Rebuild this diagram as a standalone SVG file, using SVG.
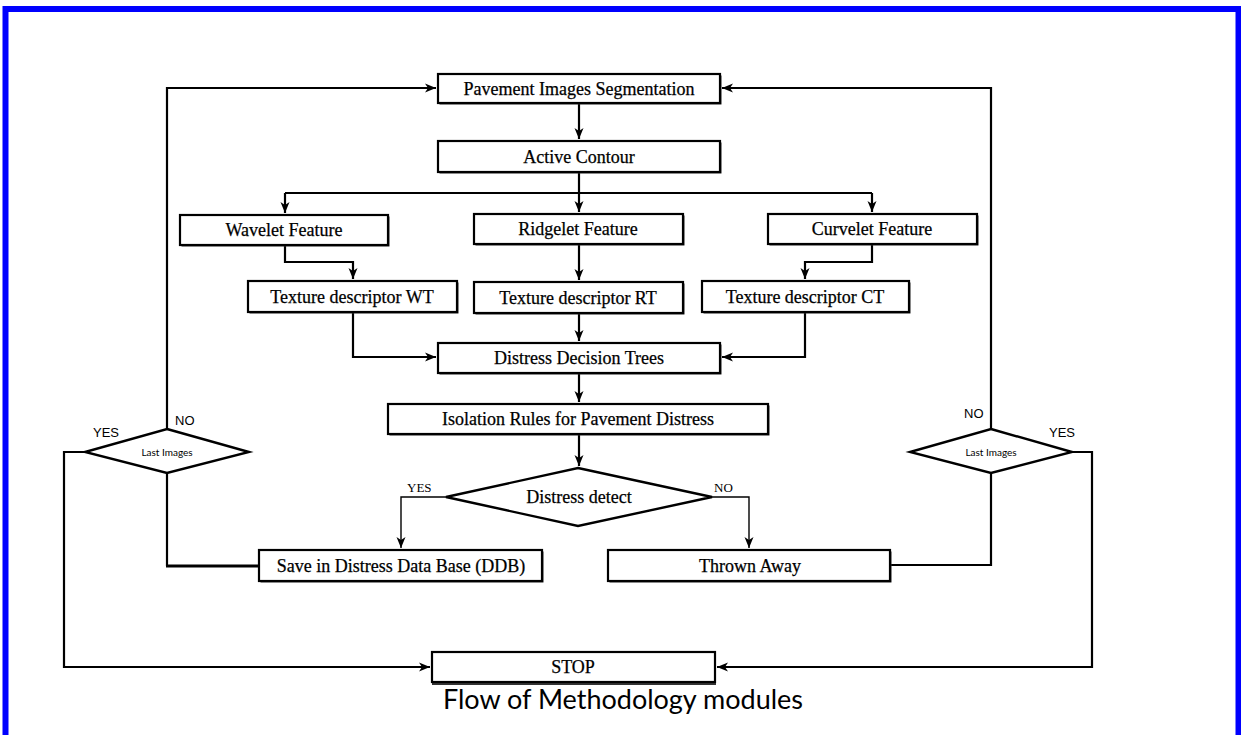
<svg xmlns="http://www.w3.org/2000/svg" width="1241" height="735" viewBox="0 0 1241 735">
<defs>
<marker id="ah" markerUnits="userSpaceOnUse" markerWidth="12" markerHeight="12" viewBox="0 0 12 12" refX="11" refY="6" orient="auto">
<path d="M0,1.5 L11,6 L0,10.5 L3,6 Z" fill="#000"/>
</marker>
</defs>
<style>
.box{fill:#fff;stroke:#000;stroke-width:2.2}
.sh{fill:#333;stroke:none}
.dia{fill:#fff;stroke:#000;stroke-width:2.4}
.t{font-family:"Liberation Serif","Times New Roman",serif;font-size:18px;fill:#000;text-anchor:middle;dominant-baseline:central;stroke:#000;stroke-width:0.25}
.lab{font-family:"Liberation Sans",Arial,sans-serif;font-size:13px;fill:#000}
.labs{font-family:"Liberation Serif","Times New Roman",serif;font-size:13px;fill:#000}
.small{font-family:Lato,"Liberation Sans",sans-serif;font-size:10px;fill:#000;text-anchor:middle;dominant-baseline:central}
.c{fill:none;stroke:#000;stroke-width:2.2}
.thin{fill:none;stroke:#000;stroke-width:1.4}
.cap{font-family:Lato,"Liberation Sans",sans-serif;font-size:27px;fill:#000;text-anchor:middle;dominant-baseline:central}
</style>
<rect x="0" y="0" width="1241" height="735" fill="#fff"/>
<rect x="5.5" y="9" width="1233" height="740" fill="none" stroke="#0000ff" stroke-width="6"/>

<g id="connectors">
<path class="c" d="M579,103 V139" marker-end="url(#ah)"/>
<path class="c" d="M579,172 V212" marker-end="url(#ah)"/>
<path class="c" d="M285,193 H872"/>
<path class="c" d="M285,193 V213" marker-end="url(#ah)"/>
<path class="c" d="M872,193 V212" marker-end="url(#ah)"/>
<path class="c" d="M285,245 V262 H353 V279" marker-end="url(#ah)"/>
<path class="c" d="M579,244 V280" marker-end="url(#ah)"/>
<path class="c" d="M872,244 V262 H805 V279" marker-end="url(#ah)"/>
<path class="c" d="M353,312 V357 H436" marker-end="url(#ah)"/>
<path class="c" d="M579,313 V341" marker-end="url(#ah)"/>
<path class="c" d="M805,312 V357 H722" marker-end="url(#ah)"/>
<path class="c" d="M579,373 V402" marker-end="url(#ah)"/>
<path class="c" d="M579,434 V466" marker-end="url(#ah)"/>
<path class="thin" d="M446,497 H401 V548" marker-end="url(#ah)"/>
<path class="thin" d="M712,497 H749 V548" marker-end="url(#ah)"/>
<path class="c" d="M167,472 V566"/>
<path fill="none" stroke="#000" stroke-width="3" d="M166,566 H259"/>
<path class="c" d="M890,565 H991 V473"/>
<path class="c" d="M167,429 V88 H436" marker-end="url(#ah)"/>
<path class="c" d="M991,429 V88 H722" marker-end="url(#ah)"/>
<path class="c" d="M85,452 H64 V667 H430" marker-end="url(#ah)"/>
<path class="c" d="M1072,452 H1092 V667 H717" marker-end="url(#ah)"/>
</g>

<g id="n-segmentation">
<rect class="sh" x="439.5" y="75.5" width="282" height="29"/>
<rect class="box" x="438" y="74" width="282" height="29"/>
<text class="t" x="579" y="89">Pavement Images Segmentation</text>
</g>
<g id="n-active">
<rect class="sh" x="439.5" y="142.5" width="282" height="31"/>
<rect class="box" x="438" y="141" width="282" height="31"/>
<text class="t" x="579" y="157">Active Contour</text>
</g>
<g id="n-wavelet">
<rect class="sh" x="181.5" y="216.5" width="208" height="30"/>
<rect class="box" x="180" y="215" width="208" height="30"/>
<text class="t" x="284" y="230">Wavelet Feature</text>
</g>
<g id="n-ridgelet">
<rect class="sh" x="475.5" y="215.5" width="209" height="30"/>
<rect class="box" x="474" y="214" width="209" height="30"/>
<text class="t" x="578" y="229">Ridgelet Feature</text>
</g>
<g id="n-curvelet">
<rect class="sh" x="769.5" y="215.5" width="209" height="30"/>
<rect class="box" x="768" y="214" width="209" height="30"/>
<text class="t" x="872" y="229">Curvelet Feature</text>
</g>
<g id="n-wt">
<rect class="sh" x="249.5" y="282.5" width="209" height="31"/>
<rect class="box" x="248" y="281" width="209" height="31"/>
<text class="t" x="352" y="297">Texture descriptor WT</text>
</g>
<g id="n-rt">
<rect class="sh" x="475.5" y="283.5" width="209" height="31"/>
<rect class="box" x="474" y="282" width="209" height="31"/>
<text class="t" x="578" y="298">Texture descriptor RT</text>
</g>
<g id="n-ct">
<rect class="sh" x="703.5" y="282.5" width="207" height="31"/>
<rect class="box" x="702" y="281" width="207" height="31"/>
<text class="t" x="805" y="297">Texture descriptor CT</text>
</g>
<g id="n-trees">
<rect class="sh" x="439.5" y="344.5" width="282" height="30"/>
<rect class="box" x="438" y="343" width="282" height="30"/>
<text class="t" x="579" y="358">Distress Decision Trees</text>
</g>
<g id="n-isolation">
<rect class="sh" x="389.5" y="405.5" width="380" height="30"/>
<rect class="box" x="388" y="404" width="380" height="30"/>
<text class="t" x="578" y="419">Isolation Rules for Pavement Distress</text>
</g>
<g id="n-detect">
<polygon class="dia" points="578,468 712,497 578,526 446,497"/>
<text class="t" x="579" y="497">Distress detect</text>
<text class="labs" x="407" y="492">YES</text>
<text class="labs" x="714" y="492">NO</text>
</g>
<g id="n-save">
<rect class="sh" x="260.5" y="551.5" width="283" height="31"/>
<rect class="box" x="259" y="550" width="283" height="31"/>
<text class="t" x="401" y="566">Save in Distress Data Base (DDB)</text>
</g>
<g id="n-thrown">
<rect class="sh" x="609.5" y="551.5" width="282" height="31"/>
<rect class="box" x="608" y="550" width="282" height="31"/>
<text class="t" x="750" y="566">Thrown  Away</text>
</g>
<g id="n-last-left">
<polygon class="dia" points="167,429 249,452 167,473 85,452"/>
<text class="small" x="167" y="452">Last Images</text>
<text class="lab" x="93" y="437">YES</text>
<text class="lab" x="175" y="425">NO</text>
</g>
<g id="n-last-right">
<polygon class="dia" points="991,429 1072,452 991,473 910,452"/>
<text class="small" x="991" y="452">Last Images</text>
<text class="lab" x="964" y="418">NO</text>
<text class="lab" x="1049" y="437">YES</text>
</g>
<g id="n-stop">
<rect class="sh" x="432" y="654" width="284" height="31"/>
<rect class="box" x="432" y="652" width="283" height="30"/>
<text class="t" x="573" y="667">STOP</text>
</g>
<text class="cap" x="623" y="698">Flow of Methodology modules</text>
</svg>
